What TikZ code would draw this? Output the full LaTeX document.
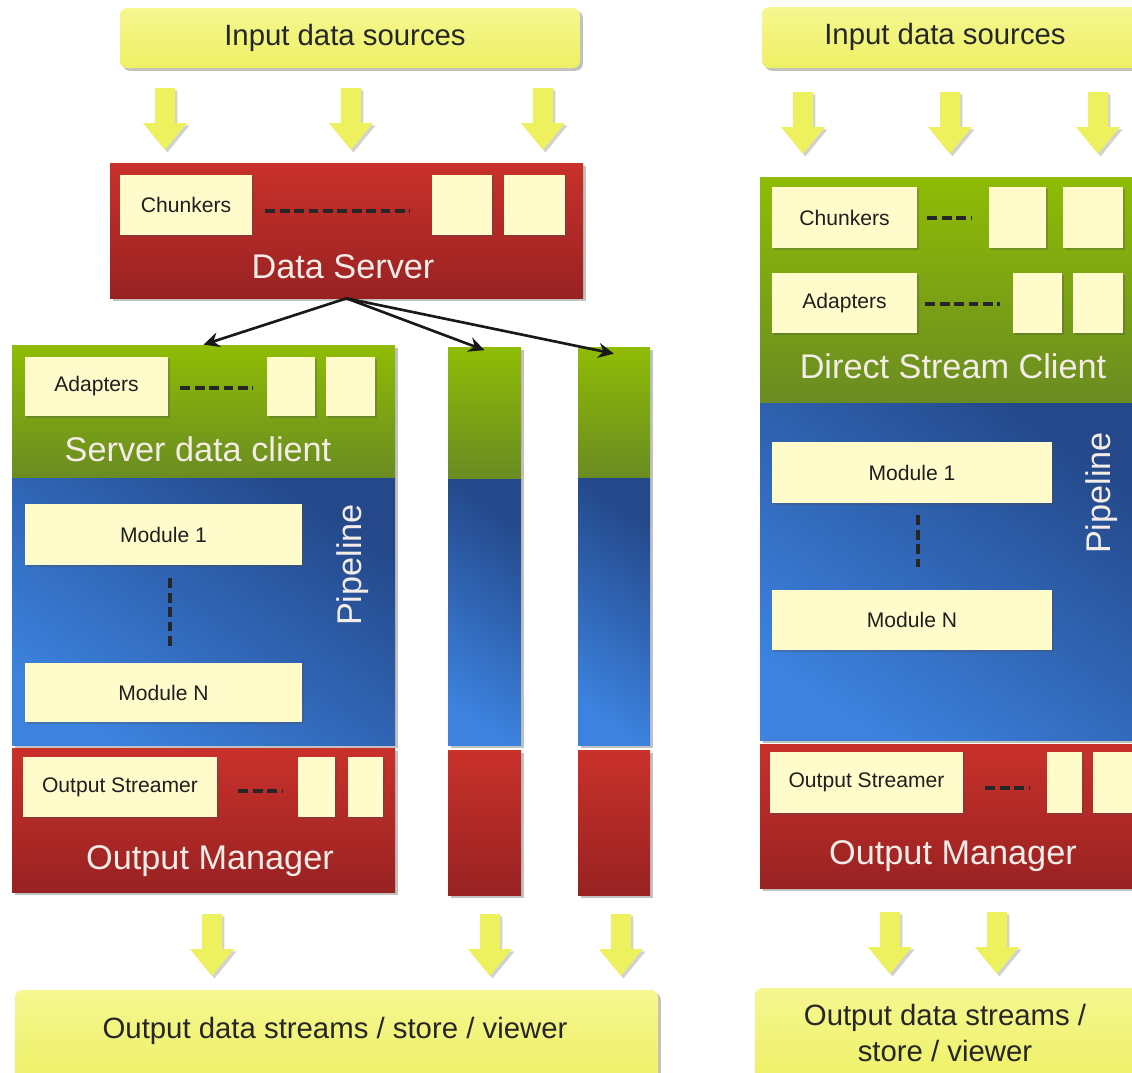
\documentclass[tikz,border=0pt]{standalone}
\usepackage{fontspec}
\setmainfont{Liberation Sans}
\usetikzlibrary{shadows,fit,arrows.meta,calc}
\definecolor{ytop}{HTML}{F5F790}
\definecolor{ybot}{HTML}{EEF064}
\definecolor{yarrow}{HTML}{EEF15E}
\definecolor{cream}{HTML}{FFFBCB}
\definecolor{rtop}{HTML}{C9312B}
\definecolor{rbot}{HTML}{982222}
\definecolor{gtop}{HTML}{8FBC05}
\definecolor{gbot}{HTML}{6A8B22}
\definecolor{bbright}{HTML}{3C82DE}
\definecolor{bdark}{HTML}{24488A}
\definecolor{ttext}{HTML}{F4ECE6}
\tikzset{
  shad/.style={drop shadow={shadow xshift=1.6pt,shadow yshift=-1.6pt,opacity=.35,fill=black!70}},
  layer/.style={inner sep=0pt,draw=none,shad},
  redl/.style={layer,top color=rtop,bottom color=rbot},
  greenl/.style={layer,top color=gtop,bottom color=gbot},
  bluel/.style={layer,top color=bdark,bottom color=bbright,shading angle=-35},
  wh/.style 2 args={minimum width=#1*0.02cm,minimum height=#2*0.02cm},
  cbox/.style={fill=cream,inner sep=0pt,text=black!88,font=\fontsize{12}{14}\selectfont,
    drop shadow={shadow xshift=1.2pt,shadow yshift=-1.2pt,opacity=.3,fill=black!70}},
  ttl/.style={text=ttext,inner sep=0pt,font=\fontsize{19.5}{22}\selectfont},
  ybox/.style={top color=ytop,bottom color=ybot,rounded corners=4pt,inner sep=0pt,shad},
  ytxt/.style={text=black!85,inner sep=0pt,align=center,font=\fontsize{16.7}{20.5}\selectfont},
  dashl/.style={line width=2.2pt,black!85,dash pattern=on 5.6pt off 2.6pt},
  conn/.style={line width=1.5pt,black!90,-{Stealth[length=9pt,width=8.5pt,inset=3pt]}},
  yarr/.pic={\fill[yarrow,drop shadow={shadow xshift=1.4pt,shadow yshift=-1.4pt,opacity=.3,fill=black!60}]
     (-10,-31) -- (-10,4) -- (-22,4) -- (0,31) -- (22,4) -- (10,4) -- (10,-31) -- cycle;}
}
\begin{document}
\begin{tikzpicture}[x=0.02cm,y=-0.02cm]
\useasboundingbox (0,0) rectangle (1132,1072);
\clip (0,0) rectangle (1132,1072);

% ---------------- LEFT ----------------
\node[ybox,fit={(120,8) (580,68)}] (inL) {};
\node[ytxt] (inLt) at (345,38) {Input data sources};
\pic at (165,119) {yarr};
\pic at (351,119) {yarr};
\pic at (543,119) {yarr};

\node[redl,fit={(110,163) (583,298)}] (ds) {};
\node[cbox,wh={132}{60}] (chk) at (186,205) {Chunkers};
\node[cbox,wh={60}{60}] (ds1) at (462,205) {};
\node[cbox,wh={61}{60}] (ds2) at (534.5,205) {};
\node[ttl] (dst) at (343,267) {Data Server};
\draw[dashl] ($(chk.east)+(13,6)$) -- ($(ds1.west)+(-22,6)$);

\node[greenl,fit={(12,345) (395,478)}] (sdc) {};
\node[bluel,fit={(12,478) (395,745)}] (pl) {};
\node[redl,fit={(12,748) (395,892)}] (om) {};

\node[greenl,fit={(448,347) (521,479)}] (g2) {};
\node[bluel,fit={(448,479) (521,745)}] (b2) {};
\node[redl,fit={(448,750) (521,895)}] (r2) {};
\node[greenl,fit={(578,347) (650,478)}] (g3) {};
\node[bluel,fit={(578,478) (650,745)}] (b3) {};
\node[redl,fit={(578,750) (650,895)}] (r3) {};

\node[cbox,wh={143}{59}] (adp) at (96.5,386.5) {Adapters};
\node[cbox,wh={48}{59}] (sa1) at (291,386.5) {};
\node[cbox,wh={49}{59}] (sa2) at (350.5,386.5) {};
\node[ttl] (sdct) at (198,449) {Server data client};
\draw[dashl] ($(adp.east)+(12,1.5)$) -- ($(sa1.west)+(-14,1.5)$);

\node[cbox,wh={277}{61}] (m1) at (163.5,534.5) {Module 1};
\node[cbox,wh={277}{59}] (mn) at (163.5,692.5) {Module N};
\draw[dashl] ($(m1.south)+(6.5,13)$) -- ($(mn.north)+(6.5,-13)$);
\node[ttl,rotate=90] (plt) at (353,565) {Pipeline};

\node[cbox,wh={194}{60}] (os) at (120,787) {Output Streamer};
\node[cbox,wh={37}{60}] (o1) at (316.5,787) {};
\node[cbox,wh={35}{60}] (o2) at (365.5,787) {};
\node[ttl] (omt) at (210,861) {Output Manager};
\draw[dashl] ($(os.east)+(21,4)$) -- ($(o1.west)+(-15,4)$);

\draw[conn] (ds.south) -- (sdc.north);
\draw[conn] (ds.south) -- ([yshift=-2]g2.north);
\draw[conn] (ds.south) -- ([yshift=-4]g3.north);

\pic at (212,945) {yarr};
\pic at (490,945) {yarr};
\pic at (621,945) {yarr};
\node[ybox,fit={(15,990) (658,1090)}] (outL) {};
\node[ytxt] (outLt) at (335,1031) {Output data streams / store / viewer};

% ---------------- RIGHT ----------------
\node[ybox,fit={(762,7) (1145,68)}] (inR) {};
\node[ytxt] (inRt) at (945,37) {Input data sources};
\pic at (803,123) {yarr};
\pic at (950,123) {yarr};
\pic at (1098,123) {yarr};

\node[greenl,fit={(760,177) (1140,403)}] (dsc) {};
\node[bluel,fit={(760,403) (1140,740)}] (rpl) {};
\node[redl,fit={(760,744) (1140,888)}] (rom) {};

\node[cbox,wh={145}{61}] (rchk) at (844.5,217.5) {Chunkers};
\node[cbox,wh={57}{61}] (rc1) at (1017.5,217.5) {};
\node[cbox,wh={60}{61}] (rc2) at (1093,217.5) {};
\draw[dashl] ($(rchk.east)+(10,0.5)$) -- ($(rc1.west)+(-17,0.5)$);

\node[cbox,wh={145}{60}] (radp) at (844.5,303) {Adapters};
\node[cbox,wh={49}{60}] (ra1) at (1037.5,303) {};
\node[cbox,wh={50}{60}] (ra2) at (1098,303) {};
\draw[dashl] ($(radp.east)+(8,1)$) -- ($(ra1.west)+(-13,1)$);
\node[ttl] (dsct) at (953,366) {Direct Stream Client};

\node[cbox,wh={280}{61}] (rm1) at (912,472.5) {Module 1};
\node[cbox,wh={280}{60}] (rmn) at (912,620) {Module N};
\draw[dashl] ($(rm1.south)+(6,12)$) -- ($(rmn.north)+(6,-23)$);
\node[ttl,rotate=90] (rplt) at (1102,493) {Pipeline};

\node[cbox,wh={193}{61}] (ros) at (866.5,782.5) {Output Streamer};
\node[cbox,wh={35}{61}] (ro1) at (1064.5,782.5) {};
\node[cbox,wh={47}{61}] (ro2) at (1116.5,782.5) {};
\draw[dashl] ($(ros.east)+(22,5.5)$) -- ($(ro1.west)+(-17,5.5)$);
\node[ttl] (romt) at (953,856) {Output Manager};

\pic at (890,943) {yarr};
\pic at (997,943) {yarr};
\node[ybox,fit={(755,988) (1145,1090)}] (outR) {};
\node[ytxt] (outRt) at (945,1033) {Output data streams /\\ store / viewer};
\end{tikzpicture}
\end{document}
